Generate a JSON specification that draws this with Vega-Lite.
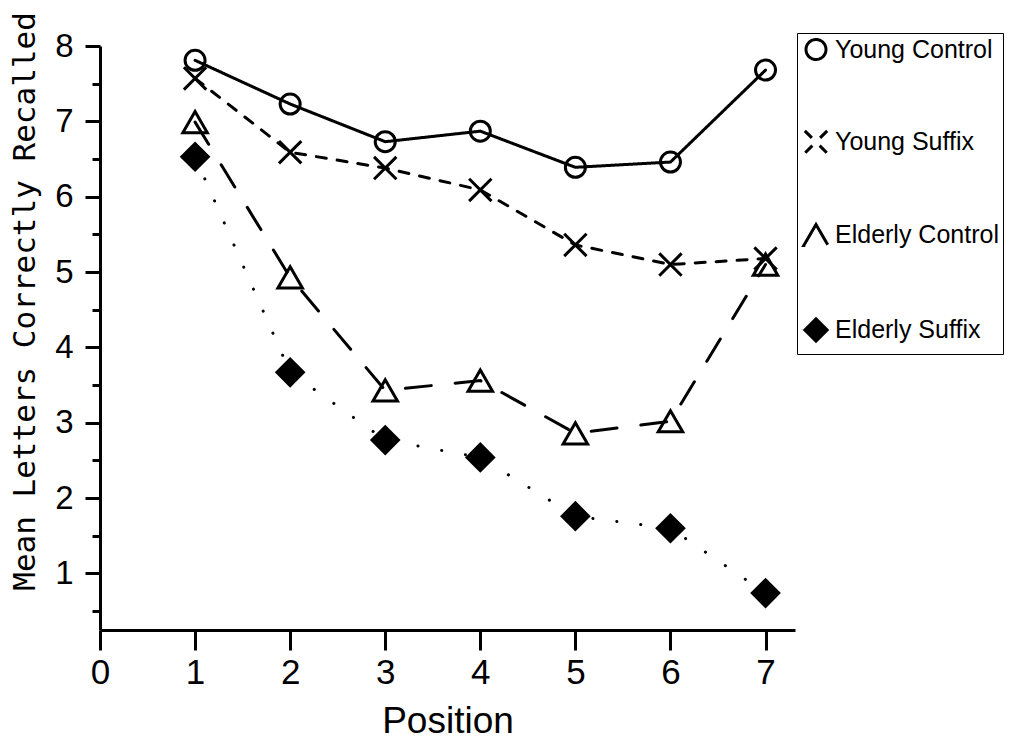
{
  "$schema": "https://vega.github.io/schema/vega-lite/v6.json",
  "width": 695,
  "height": 584,
  "autosize": "none",
  "padding": {"left": 100, "top": 46, "right": 215, "bottom": 113},
  "background": "white",
  "config": {
    "view": {"stroke": null},
    "font": "Liberation Sans",
    "axis": {
      "domainColor": "black",
      "domainWidth": 3,
      "tickColor": "black",
      "tickWidth": 3,
      "labelColor": "black",
      "titleColor": "black",
      "titleFontWeight": "normal",
      "grid": false,
      "labelFlush": false,
      "labelOverlap": false
    }
  },
  "data": {
    "values": [
      {"series": "Young Control", "position": 1, "recalled": 7.81},
      {"series": "Young Control", "position": 2, "recalled": 7.23},
      {"series": "Young Control", "position": 3, "recalled": 6.73},
      {"series": "Young Control", "position": 4, "recalled": 6.87},
      {"series": "Young Control", "position": 5, "recalled": 6.39},
      {"series": "Young Control", "position": 6, "recalled": 6.46},
      {"series": "Young Control", "position": 7, "recalled": 7.68},
      {"series": "Young Suffix", "position": 1, "recalled": 7.57},
      {"series": "Young Suffix", "position": 2, "recalled": 6.59},
      {"series": "Young Suffix", "position": 3, "recalled": 6.38},
      {"series": "Young Suffix", "position": 4, "recalled": 6.09},
      {"series": "Young Suffix", "position": 5, "recalled": 5.36},
      {"series": "Young Suffix", "position": 6, "recalled": 5.1},
      {"series": "Young Suffix", "position": 7, "recalled": 5.18},
      {"series": "Elderly Control", "position": 1, "recalled": 6.99},
      {"series": "Elderly Control", "position": 2, "recalled": 4.93},
      {"series": "Elderly Control", "position": 3, "recalled": 3.43},
      {"series": "Elderly Control", "position": 4, "recalled": 3.56},
      {"series": "Elderly Control", "position": 5, "recalled": 2.86},
      {"series": "Elderly Control", "position": 6, "recalled": 3.02},
      {"series": "Elderly Control", "position": 7, "recalled": 5.1},
      {"series": "Elderly Suffix", "position": 1, "recalled": 6.53},
      {"series": "Elderly Suffix", "position": 2, "recalled": 3.67},
      {"series": "Elderly Suffix", "position": 3, "recalled": 2.77},
      {"series": "Elderly Suffix", "position": 4, "recalled": 2.54},
      {"series": "Elderly Suffix", "position": 5, "recalled": 1.76},
      {"series": "Elderly Suffix", "position": 6, "recalled": 1.6},
      {"series": "Elderly Suffix", "position": 7, "recalled": 0.74}
    ]
  },
  "layer": [
    {
      "mark": {"type": "line", "stroke": "black", "strokeWidth": 3, "strokeCap": "round"},
      "encoding": {
        "x": {
          "field": "position",
          "type": "quantitative",
          "scale": {"domain": [0, 7.31], "nice": false, "zero": false},
          "axis": {
            "values": [0, 1, 2, 3, 4, 5, 6, 7],
            "format": "d",
            "title": "Position",
            "titleFontSize": 37,
            "titleY": 102,
            "titleBaseline": "alphabetic",
            "labelFontSize": 35,
            "labelBaseline": "alphabetic",
            "labelPadding": 33,
            "tickSize": 20
          }
        },
        "y": {
          "field": "recalled",
          "type": "quantitative",
          "scale": {"domain": [0.25, 8], "nice": false, "zero": false},
          "axis": {
            "orient": "left",
            "values": [1, 2, 3, 4, 5, 6, 7, 8],
            "format": "d",
            "title": "Mean Letters Correctly Recalled",
            "titleFont": "DejaVu Sans Mono",
            "titleFontSize": 31,
            "titleAngle": -90,
            "titleX": -66,
            "titleY": 255,
            "titleAlign": "center",
            "titleBaseline": "alphabetic",
            "labelFontSize": 33,
            "labelPadding": 12,
            "tickSize": 15
          }
        },
        "strokeDash": {
          "field": "series",
          "type": "nominal",
          "scale": {
            "domain": ["Young Control", "Young Suffix", "Elderly Control", "Elderly Suffix"],
            "range": [[1, 0], [10, 11], [26, 24], [0.1, 24]]
          }
        }
      }
    },
    {
      "mark": {"type": "point", "filled": false, "stroke": "black", "strokeWidth": 3, "opacity": 1},
      "encoding": {
        "x": {"field": "position", "type": "quantitative", "scale": {"domain": [0, 7.31], "nice": false, "zero": false}},
        "y": {
          "field": "recalled",
          "type": "quantitative",
          "scale": {"domain": [0.25, 8], "nice": false, "zero": false},
          "axis": {
            "orient": "left",
            "values": [0.5, 1.5, 2.5, 3.5, 4.5, 5.5, 6.5, 7.5],
            "labels": false,
            "domain": false,
            "title": null,
            "tickSize": 8
          }
        },
        "shape": {
          "field": "series",
          "type": "nominal",
          "scale": {
            "domain": ["Young Control", "Young Suffix", "Elderly Control", "Elderly Suffix"],
            "range": ["circle", "M-1,-1L1,1M1,-1L-1,1", "triangle-up", "diamond"]
          },
          "legend": {
            "title": null,
            "orient": "none",
            "legendX": 697,
            "legendY": -13,
            "direction": "vertical",
            "labelFont": "Liberation Sans",
            "labelFontSize": 25,
            "labelColor": "black",
            "labelOffset": 4,
            "labelLimit": 0,
            "symbolStrokeColor": "black",
            "symbolStrokeWidth": 3,
            "rowPadding": 58,
            "padding": 4,
            "strokeColor": "black"
          }
        },
        "size": {
          "field": "series",
          "type": "nominal",
          "scale": {
            "domain": ["Young Control", "Young Suffix", "Elderly Control", "Elderly Suffix"],
            "range": [400, 700]
          }
        },
        "fill": {
          "field": "series",
          "type": "nominal",
          "scale": {
            "domain": ["Young Control", "Young Suffix", "Elderly Control", "Elderly Suffix"],
            "range": ["transparent", "transparent", "transparent", "black"]
          }
        }
      }
    }
  ],
  "resolve": {"scale": {"y": "independent"}, "axis": {"y": "independent"}}
}
